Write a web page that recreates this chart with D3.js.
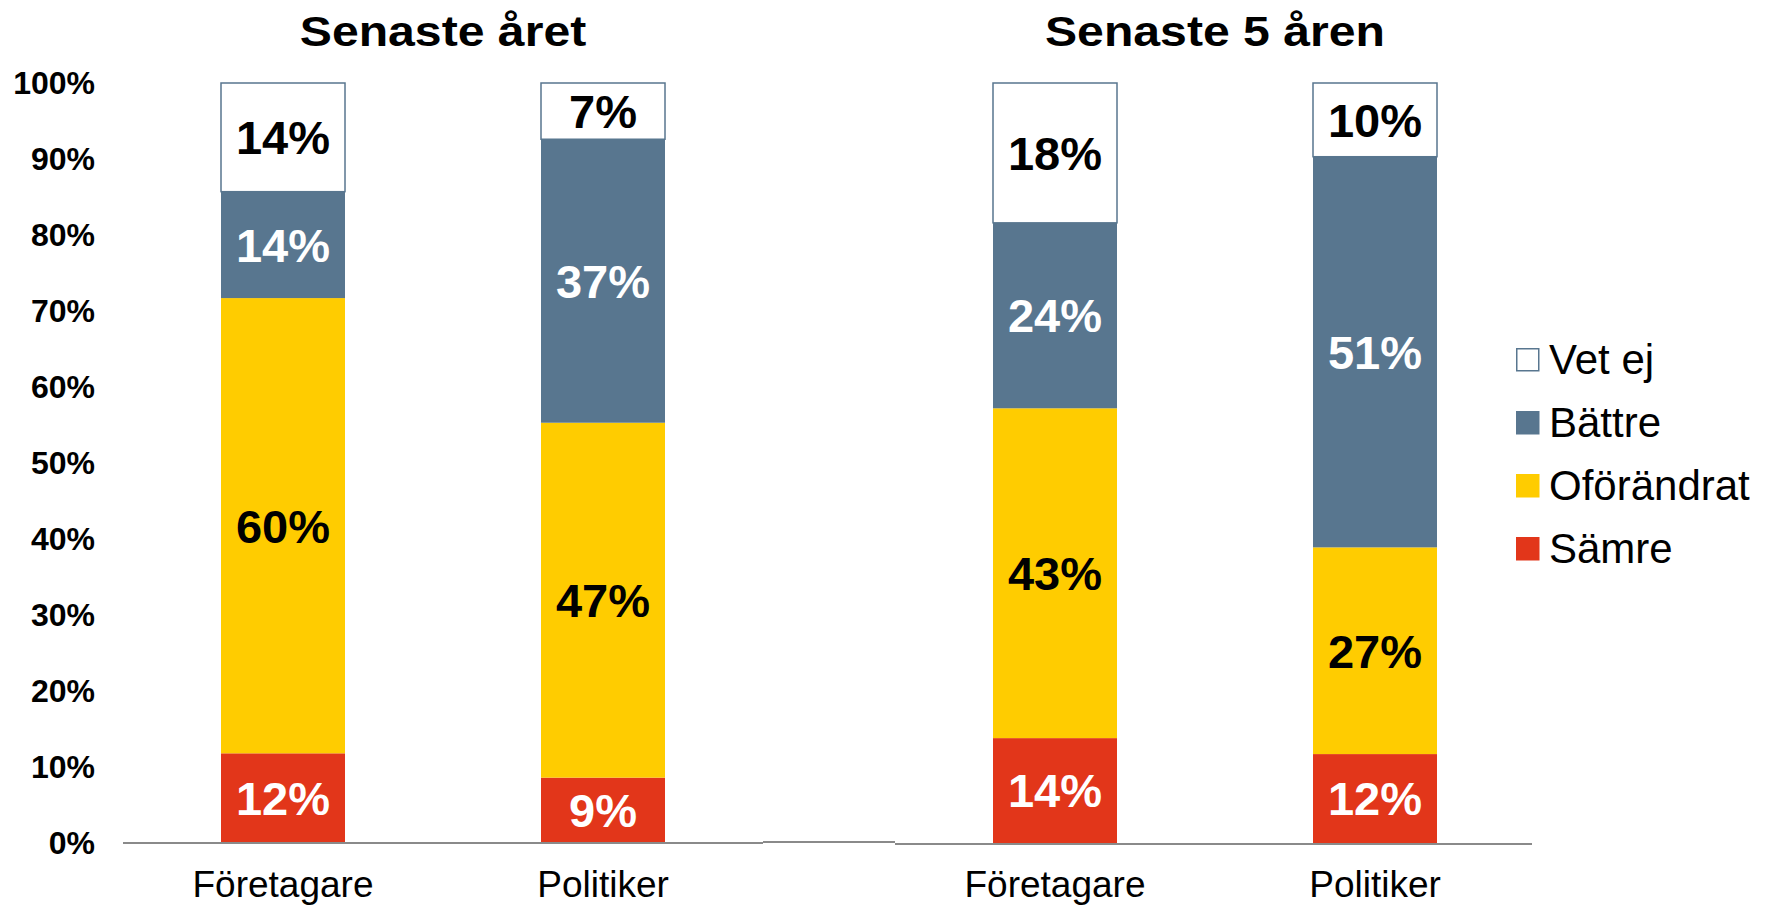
<!DOCTYPE html>
<html>
<head>
<meta charset="utf-8">
<script src="https://cdn.jsdelivr.net/npm/d3@7"></script>
<style>
	body { margin: 0; background: #fff; }
	text { font-family: "Liberation Sans", Arial, sans-serif; }
</style>
</head>
<body>
<div id="chart"></div>
<script>
// chart values
var groups = ["Senaste året", "Senaste 5 åren"];
var categories = ["Företagare", "Politiker"];
var seriesNames = ["Sämre", "Oförändrat", "Bättre", "Vet ej"];
var legendOrder = ["Vet ej", "Bättre", "Oförändrat", "Sämre"];
// one entry per bar: [året Företagare, året Politiker, 5 år Företagare, 5 år Politiker]
var samre = [11.8, 8.6, 13.8, 11.7];
var oforandrat = [59.9, 46.7, 43.4, 27.2];
var battre = [14.0, 37.3, 24.4, 51.4];
var vetEj = [14.3, 7.4, 18.4, 9.7];
var yTicks = [0, 10, 20, 30, 40, 50, 60, 70, 80, 90, 100];

var colors = {"Sämre": "#e2361a", "Oförändrat": "#ffcc00", "Bättre": "#58768f", "Vet ej": "#ffffff"};
var labelColors = {"Sämre": "#fff", "Oförändrat": "#000", "Bättre": "#fff", "Vet ej": "#000"};

var width = 1772, height = 909;
var baseY = 843, topY = 83;
var panelRanges = [[123, 763], [895, 1535]];

var svg = d3.select("#chart").append("svg")
	.attr("width", width)
	.attr("height", height);

var y = d3.scaleLinear().domain([0, 100]).range([baseY, topY]);

// build rows for the stack, one per bar
var rows = [];
groups.forEach(function(g, gi) {
	categories.forEach(function(c, ci) {
		var i = gi * categories.length + ci;
		rows.push({group: gi, category: c, "Sämre": samre[i], "Oförändrat": oforandrat[i], "Bättre": battre[i], "Vet ej": vetEj[i]});
	});
});

var stacked = d3.stack().keys(seriesNames)(rows);

// y axis labels only, no line
var yAxis = svg.append("g")
	.attr("transform", "translate(95,0)")
	.call(d3.axisLeft(y).tickValues(yTicks).tickSize(0).tickPadding(0)
		.tickFormat(function(d) { return d + "%"; }));
yAxis.select(".domain").remove();
yAxis.selectAll("text")
	.attr("font-family", "Liberation Sans, Arial, sans-serif")
	.attr("font-size", 32)
	.attr("font-weight", "bold")
	.attr("fill", "#000");

var xScales = groups.map(function(g, gi) {
	return d3.scaleBand().domain(categories).range(panelRanges[gi])
		.paddingInner(0.6125).paddingOuter(0.30625);
});

// panels: title + category axis
groups.forEach(function(g, gi) {
	var x = xScales[gi];
	var r = panelRanges[gi];
	var title = svg.append("text")
		.attr("x", (r[0] + r[1]) / 2)
		.attr("y", 46)
		.attr("text-anchor", "middle")
		.attr("font-size", 43)
		.attr("font-weight", "bold")
		.text(g);
	var len = title.node().getComputedTextLength();
	title.attr("textLength", len * 1.12).attr("lengthAdjust", "spacingAndGlyphs");

	var xAxis = svg.append("g")
		.attr("transform", "translate(0," + baseY + ")")
		.call(d3.axisBottom(x).tickSize(0).tickPadding(28));
	xAxis.select(".domain").remove();
	xAxis.selectAll("text")
		.attr("font-family", "Liberation Sans, Arial, sans-serif")
		.attr("font-size", 37)
		.attr("fill", "#000");
});

// stacked bars
var layers = svg.append("g").selectAll("g")
	.data(stacked)
	.enter().append("g");

layers.selectAll("rect")
	.data(function(s) { return s.map(function(d) { d.key = s.key; return d; }); })
	.enter().append("rect")
	.attr("x", function(d) { return xScales[d.data.group](d.data.category); })
	.attr("width", function(d) { return xScales[d.data.group].bandwidth(); })
	.attr("y", function(d) { return y(d[1]); })
	.attr("height", function(d) { return y(d[0]) - y(d[1]); })
	.attr("fill", function(d) { return colors[d.key]; })
	.attr("stroke", function(d) { return d.key === "Vet ej" ? "#58768f" : "none"; })
	.attr("stroke-width", 1.5);

layers.selectAll("text")
	.data(function(s) { return s.map(function(d) { d.key = s.key; return d; }); })
	.enter().append("text")
	.attr("x", function(d) { return xScales[d.data.group](d.data.category) + xScales[d.data.group].bandwidth() / 2; })
	.attr("y", function(d) { return (y(d[0]) + y(d[1])) / 2; })
	.attr("dy", "0.36em")
	.attr("text-anchor", "middle")
	.attr("font-size", 47)
	.attr("font-weight", "bold")
	.attr("fill", function(d) { return labelColors[d.key]; })
	.text(function(d) { return Math.round(d[1] - d[0]) + "%"; });

// baseline, drawn in three pieces like the original
svg.append("line")
	.attr("x1", panelRanges[0][0]).attr("x2", panelRanges[0][1])
	.attr("y1", baseY).attr("y2", baseY)
	.attr("stroke", "#8a8a8a").attr("stroke-width", 2);
svg.append("line")
	.attr("x1", panelRanges[0][1]).attr("x2", panelRanges[1][0])
	.attr("y1", baseY - 1).attr("y2", baseY - 1)
	.attr("stroke", "#8a8a8a").attr("stroke-width", 2);
svg.append("line")
	.attr("x1", panelRanges[1][0]).attr("x2", panelRanges[1][1] - 3)
	.attr("y1", baseY + 1).attr("y2", baseY + 1)
	.attr("stroke", "#8a8a8a").attr("stroke-width", 2);

// legend
var legend = svg.append("g")
	.attr("transform", "translate(1516,348)");

var item = legend.selectAll("g")
	.data(legendOrder)
	.enter().append("g")
	.attr("transform", function(d, i) { return "translate(0," + (i * 63) + ")"; });

item.append("rect")
	.attr("x", 0.75).attr("y", 0.75)
	.attr("width", 22).attr("height", 22)
	.attr("fill", function(d) { return colors[d]; })
	.attr("stroke", function(d) { return d === "Vet ej" ? "#58768f" : colors[d]; })
	.attr("stroke-width", 1.5);

item.append("text")
	.attr("x", 33)
	.attr("y", 26)
	.attr("font-size", 42)
	.attr("fill", "#000")
	.text(function(d) { return d; });
</script>
</body>
</html>
